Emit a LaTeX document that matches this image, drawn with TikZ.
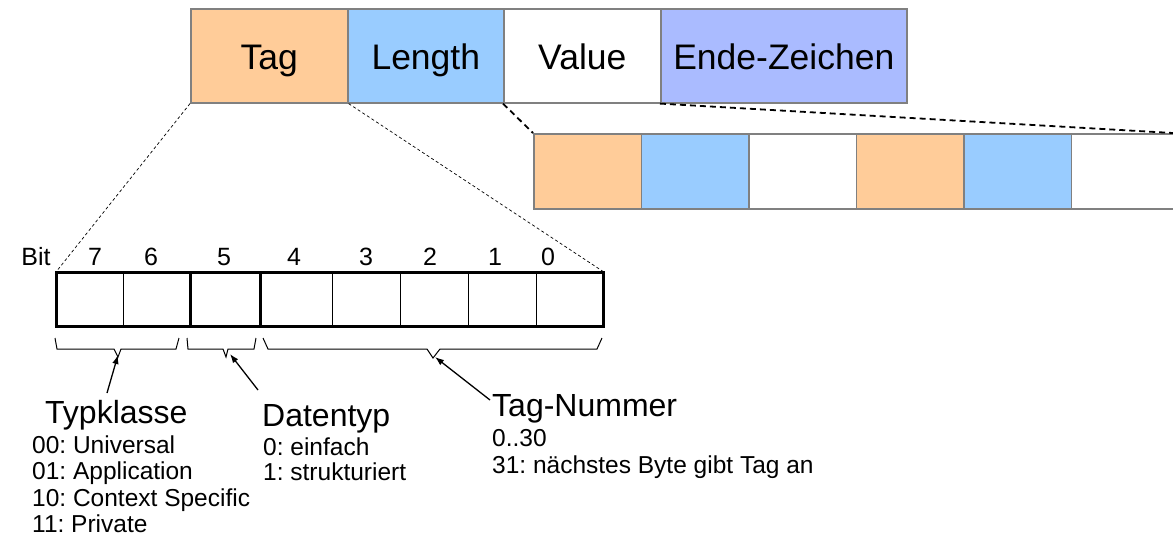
\documentclass[tikz,border=0pt]{standalone}
\usepackage{fontspec}
\setmainfont{Liberation Sans}
\usetikzlibrary{arrows.meta}
\definecolor{tagc}{HTML}{FFCC99}
\definecolor{lenc}{HTML}{99CCFF}
\definecolor{endc}{HTML}{AABBFF}
\definecolor{bordc}{HTML}{808080}
\frenchspacing
\begin{document}
\begin{tikzpicture}[x=1pt,y=-1pt,
  topbox/.style={draw=bordc,line width=1.6pt,minimum height=94pt,inner sep=0pt,anchor=north west,
    text height=35pt,text depth=7pt,font=\fontsize{35.5}{40}\selectfont},
  subbox/.style={draw=bordc,line width=1.6pt,minimum height=75pt,minimum width=107.5pt,inner sep=0pt,anchor=north west},
  bitcell/.style={draw=black,line width=0.9pt,minimum height=54pt,inner sep=0pt,anchor=north west},
  bitlab/.style={anchor=base,font=\fontsize{25}{29}\selectfont,inner sep=0pt},
  bigtxt/.style={anchor=base west,font=\fontsize{32}{36}\selectfont,inner sep=0pt},
  smalltxt/.style={anchor=base west,font=\fontsize{24.5}{28}\selectfont,inner sep=0pt},
  zoomline/.style={line width=1.8pt,dash pattern=on 6pt off 4pt},
  fineline/.style={line width=0.7pt,dash pattern=on 3pt off 2.5pt},
  brace/.style={line width=1pt,line join=miter},
  pointer/.style={line width=1.3pt,-{Latex[length=9pt,width=6.5pt]}}]
\useasboundingbox (0,0) rectangle (1173,539);
% top row
\node[topbox,fill=tagc,minimum width=157pt] (tag) at (190,8) {Tag};
\node[topbox,fill=lenc,minimum width=156pt] (len) at (347,8) {Length};
\node[topbox,fill=white,minimum width=157pt] (val) at (503,8) {Value};
\node[topbox,fill=endc,minimum width=246pt] (end) at (660,8) {Ende-Zeichen};
% second row
\node[subbox,fill=tagc] (s1) at (533,133) {};
\node[subbox,fill=lenc] (s2) at (640.5,133) {};
\node[subbox,fill=white] (s3) at (748,133) {};
\node[subbox,fill=tagc] (s4) at (855.5,133) {};
\node[subbox,fill=lenc] (s5) at (963,133) {};
\node[subbox,fill=white] (s6) at (1070.5,133) {};
\coordinate (far) at (1178,133.3);
\draw[zoomline] (val.south west) -- (s1.north west);
\draw[zoomline] (end.south west) -- (far);
% bit cells
\node[bitcell,minimum width=67pt] (b7) at (56,272) {};
\node[bitcell,minimum width=67pt] (b6) at (123,272) {};
\node[bitcell,minimum width=70pt] (b5) at (190,272) {};
\node[bitcell,minimum width=72pt] (b4) at (260,272) {};
\node[bitcell,minimum width=68pt] (b3) at (332,272) {};
\node[bitcell,minimum width=68pt] (b2) at (400,272) {};
\node[bitcell,minimum width=68pt] (b1) at (468,272) {};
\node[bitcell,minimum width=67pt] (b0) at (536,272) {};
\draw[line width=3pt] (b7.north west) rectangle (b0.south east);
\draw[line width=3pt] (b5.north west) -- (b5.south west);
\draw[line width=3pt] (b4.north west) -- (b4.south west);
\draw[fineline] (tag.south west) -- (b7.north west);
\draw[fineline] (tag.south east) -- (b0.north east);
% bit labels
\node[bitlab] (lbit) at (36,265) {Bit};
\node[bitlab] (l7) at (95,265) {7};
\node[bitlab] (l6) at (151,265) {6};
\node[bitlab] (l5) at (224,265) {5};
\node[bitlab] (l4) at (294,265) {4};
\node[bitlab] (l3) at (366,265) {3};
\node[bitlab] (l2) at (430,265) {2};
\node[bitlab] (l1) at (495,265) {1};
\node[bitlab] (l0) at (548,265) {0};
% braces
\coordinate (t1) at (118,357);
\coordinate (t2) at (226,357);
\coordinate (t3) at (433,358);
\draw[brace] (55,338) -- (57,349) -- (114,349) -- (t1) -- (121,349) -- (176,349) -- (179,338);
\draw[brace] (187,338) -- (188,349) -- (223,349) -- (t2) -- (228,349) -- (254,349) -- (256,338);
\draw[brace] (263,338) -- (268,349) -- (427,349) -- (t3) -- (440,349) -- (597,349) -- (602,338);
% labels
\node[bigtxt] (typ) at (45,423) {Typklasse};
\node[smalltxt] (typa) at (32,453) {00: Universal};
\node[smalltxt] (typb) at (32,479.5) {01: Application};
\node[smalltxt] (typc) at (32,506) {10: Context Specific};
\node[smalltxt] (typd) at (32,532.5) {11: Private};
\node[bigtxt] (dat) at (262,426) {Datentyp};
\node[smalltxt] (data) at (263,455) {0: einfach};
\node[smalltxt] (datb) at (263,480) {1: strukturiert};
\node[bigtxt] (num) at (492,416) {Tag-Nummer};
\node[smalltxt] (numa) at (492,446) {0..30};
\node[smalltxt] (numb) at (492,473) {31: nächstes Byte gibt Tag an};
% pointers
\coordinate (p1) at (107,393);
\coordinate (p2) at (258,390);
\coordinate (p3) at (490,400);
\draw[pointer] (p1) -- ([yshift=2pt]t1);
\draw[pointer] (p2) -- ([xshift=4pt,yshift=3pt]t2);
\draw[pointer] (p3) -- ([xshift=2pt,yshift=1pt]t3);
\end{tikzpicture}
\end{document}
